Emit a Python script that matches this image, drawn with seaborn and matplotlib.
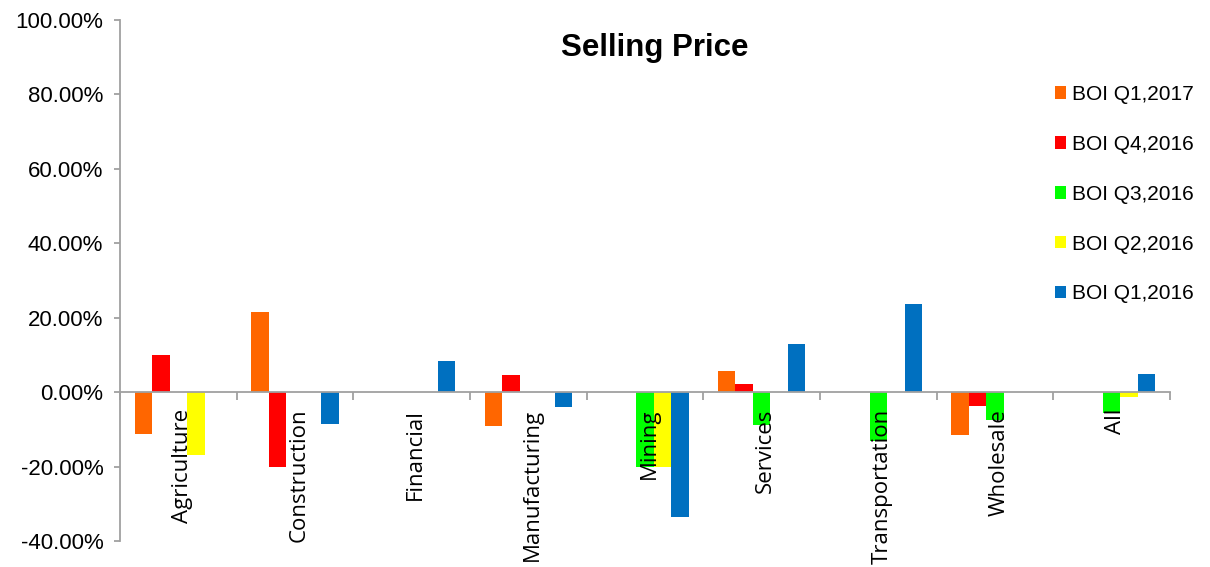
import matplotlib
matplotlib.use("Agg")
import matplotlib.pyplot as plt
import matplotlib.transforms as mtransforms
import seaborn as sns
import pandas as pd
from matplotlib.ticker import FuncFormatter, FixedLocator, MultipleLocator
from matplotlib.patches import Patch

categories = ["Agriculture", "Construction", "Financial", "Manufacturing", "Mining",
              "Services", "Transportation", "Wholesale", "All"]
series_names = ["BOI Q1,2017", "BOI Q4,2016", "BOI Q3,2016", "BOI Q2,2016", "BOI Q1,2016"]

q1_2017 = [-11.2, 21.5, 0.0, -9.2, 0.0, 5.7, 0.0, -11.5, 0.0]
q4_2016 = [10.0, -20.0, 0.0, 4.7, 0.0, 2.2, 0.0, -3.6, 0.0]
q3_2016 = [0.0, 0.0, 0.0, 0.0, -20.0, -8.9, -13.2, -7.5, -5.5]
q2_2016 = [-16.8, 0.0, 0.0, 0.0, -20.0, 0.0, 0.0, 0.0, -1.4]
q1_2016 = [0.0, -8.5, 8.3, -4.1, -33.5, 13.0, 23.6, 0.0, 4.9]

colors = ["#FF6600", "#FF0000", "#00FF00", "#FFFF00", "#0070C0"]

all_series = [q1_2017, q4_2016, q3_2016, q2_2016, q1_2016]
rows = []
for name, vals in zip(series_names, all_series):
    for c, v in zip(categories, vals):
        rows.append({"Sector": c, "Series": name, "Value": v})
df = pd.DataFrame(rows)

sns.set_style("white")
plt.rcParams["font.family"] = ["Liberation Sans", "DejaVu Sans"]
plt.rcParams["text.color"] = "black"
plt.rcParams["xtick.color"] = "black"
plt.rcParams["ytick.color"] = "black"

fig = plt.figure(figsize=(12.1, 5.67), dpi=100)
ax = fig.add_axes([120 / 1210, 1 - 541 / 567, 1050 / 1210, 521 / 567])

sns.barplot(data=df, x="Sector", y="Value", hue="Series", order=categories,
            hue_order=series_names, palette=colors, width=0.75, linewidth=0,
            saturation=1, errorbar=None, legend=False, ax=ax)
ax.set_axisbelow(False)
for p in ax.patches:
    p.set_zorder(1)

ax.set_xlim(-0.5, len(categories) - 0.5)
ax.set_ylim(-40, 100)
ax.yaxis.set_major_locator(MultipleLocator(20))
ax.yaxis.set_major_formatter(FuncFormatter(lambda v, p: f"{v:.2f}%"))
ax.set_xlabel("")
ax.set_ylabel("")

gray = "#A0A0A0"
for s in ["top", "right"]:
    ax.spines[s].set_visible(False)
ax.spines["left"].set_color(gray)
ax.spines["left"].set_linewidth(1.3)
ax.spines["bottom"].set_position(("data", 0))
ax.spines["bottom"].set_color(gray)
ax.spines["bottom"].set_linewidth(1.3)

ax.tick_params(axis="y", which="major", direction="out", length=4, width=1.3,
               color=gray, labelcolor="black", labelsize=16, pad=8, left=True)
ax.xaxis.set_minor_locator(FixedLocator([i - 0.5 for i in range(len(categories) + 1)]))
ax.tick_params(axis="x", which="minor", direction="out", length=6, width=1.3,
               color=gray, bottom=True)
ax.tick_params(axis="x", which="major", length=0, pad=12, labelcolor="black")
offset = mtransforms.ScaledTranslation(4 / 100, 0, fig.dpi_scale_trans)
for lbl in ax.get_xticklabels():
    lbl.set_rotation(90)
    lbl.set_fontfamily("Open Sans")
    lbl.set_fontsize(16)
    lbl.set_va("top")
    lbl.set_ha("center")
    lbl.set_transform(lbl.get_transform() + offset)

fig.text(655 / 1210, 1 - 48 / 567, "Selling Price", ha="center", va="center",
         fontsize=22.5, fontweight="bold", color="black")

handles = [Patch(facecolor=c, edgecolor="none") for c in colors]
fig.legend(handles, series_names, loc="upper left",
           bbox_to_anchor=(1055 / 1210, 1 - 85 / 567), frameon=False,
           fontsize=15, handlelength=0.55, handleheight=0.55,
           handletextpad=0.25, labelspacing=1.48, borderpad=0, borderaxespad=0)

fig.savefig("out.png", dpi=100)
